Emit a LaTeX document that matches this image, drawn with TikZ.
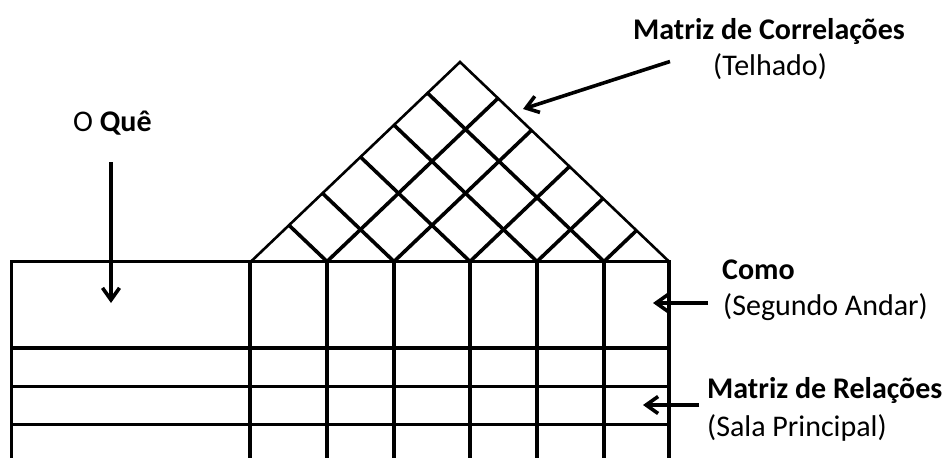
\documentclass[tikz,border=0pt]{standalone}
\usepackage{fontspec}
\setmainfont{Carlito}
\usetikzlibrary{arrows.meta}
\begin{document}
\begin{tikzpicture}[x=1pt,y=-1pt,
  gridline/.style={line width=3.4pt},
  roofedge/.style={line width=2.6pt, line join=miter},
  diag/.style={line width=3.6pt},
  pointer/.style={line width=3.6pt, -{Straight Barb[length=12pt,width=17pt,line width=3.6pt]}},
  lbl/.style={anchor=base west, inner sep=0pt, font=\fontsize{30}{36}\selectfont}]
\useasboundingbox (0,0) rectangle (946,458);
% main grid
\draw[gridline] (11.5,470) -- (11.5,261.5) -- (669,261.5) -- (669,470);
\foreach \y in {348,386.5,424.5} \draw[gridline] (11.5,\y) -- (669,\y);
\foreach \x in {250,327,394,470,537,604} \draw[gridline] (\x,261.5) -- (\x,470);
% roof
\draw[roofedge] (251,261.5) -- (460,62) -- (669,261.5);
\foreach \c in {327,394,470,537,604} {
  \draw[diag] (\c,261.5) -- ({(\c+669)/2},{261.5-0.47727*(669-\c)});
  \draw[diag] (\c,261.5) -- ({(\c+251)/2},{261.5-0.47727*(\c-251)});
}
% labels
\node[lbl] (corr) at (633,39) {\textbf{Matriz de Correlações}};
\node[lbl] (telh) at (713,75) {(Telhado)};
\node[lbl] (oque) at (73,131) {O \textbf{Quê}};
\node[lbl] (como) at (722,279) {\textbf{Como}};
\node[lbl] (seg) at (723,315) {(Segundo Andar)};
\node[lbl] (rel) at (707,398) {\textbf{Matriz de Relações}};
\node[lbl] (sala) at (707,436) {(Sala Principal)};
% arrows
\coordinate (a1s) at (670,61.5); \coordinate (a1e) at (523,109);
\coordinate (a2s) at (111,162); \coordinate (a2e) at (111,303);
\coordinate (a3s) at (708,303); \coordinate (a3e) at (653,303);
\coordinate (a4s) at (699,405); \coordinate (a4e) at (643,405);
\draw[pointer] (a1s) -- (a1e);
\draw[pointer] (a2s) -- (a2e);
\draw[pointer] (a3s) -- (a3e);
\draw[pointer] (a4s) -- (a4e);
\end{tikzpicture}
\end{document}
